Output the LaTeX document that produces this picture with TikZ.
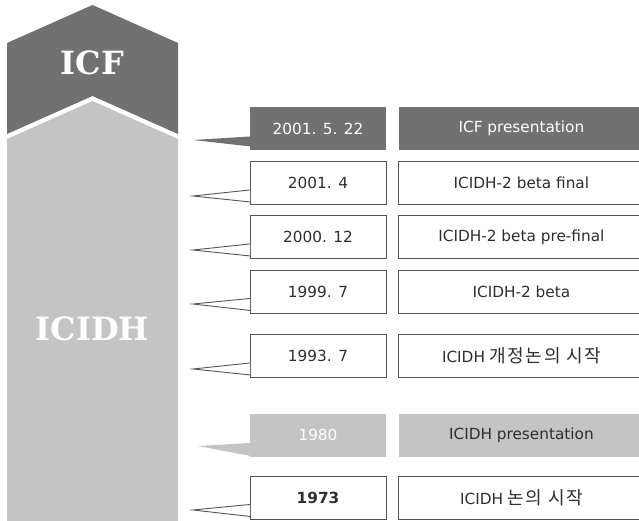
\documentclass[tikz,border=0pt]{standalone}
\usepackage{fontspec}
\setmainfont{DejaVu Sans}
\newfontfamily\titlefont{DejaVu Serif}
\newfontfamily\kr[Scale=1.18,LetterSpace=8]{Noto Sans CJK KR}
\usepackage{xcolor}
\usetikzlibrary{positioning}
\definecolor{icfgray}{HTML}{717171}
\definecolor{icidhgray}{HTML}{C4C4C4}
\definecolor{boxline}{HTML}{555555}
\definecolor{txtgray}{HTML}{2E2E2E}

\begin{document}
\begin{tikzpicture}[x=1pt, y=-1pt, node distance=12pt,
    datebox/.style={draw=boxline, line width=0.9pt, fill=white, minimum width=136pt, minimum height=43pt, inner sep=0pt, text=txtgray, font=\fontsize{15.3}{18}\selectfont},
    descbox/.style={datebox, minimum width=245pt},
    darkbox/.style={fill=icfgray, draw=none, text=white},
    lightbox/.style={fill=icidhgray, draw=none},
    tail/.style={draw=boxline, line width=0.9pt, fill=white},
    bigtitle/.style={text=white, font=\titlefont\bfseries\fontsize{32}{36}\selectfont}]

    \useasboundingbox (0,0) rectangle (639,521);
    \clip (0,0) rectangle (639,521);

    % ICF / ICIDH arrow
    \fill[icidhgray] (7,139) -- (92.5,101) -- (178,139) -- (178,521) -- (7,521) -- cycle;
    \fill[icfgray] (7,43) -- (92.5,5) -- (178,43) -- (178,134) -- (92.5,96) -- (7,134) -- cycle;
    \node[bigtitle] (icf) at (92.5,63) {ICF};
    \node[bigtitle] (icidh) at (92.5,329) {ICIDH};

    % 2001. 5. 22
    \node[datebox, darkbox] (d1) at (318,128.5) {2001. 5. 22};
    \node[descbox, darkbox, right=of d1] (e1) {ICF presentation};
    \coordinate (t1) at (193,140);
    \fill[icfgray] ([xshift=1pt, yshift=14pt]d1.south west) -- (t1) -- ([xshift=1pt, yshift=4pt]d1.south west) -- cycle;

    % 2001. 4
    \node[datebox] (d2) at (318,183) {2001. 4};
    \node[descbox, right=of d2] (e2) {ICIDH-2 beta final};
    \coordinate (t2) at (193,196);
    \filldraw[tail] ([xshift=0.5pt, yshift=15pt]d2.south west) -- (t2) -- ([xshift=0.5pt, yshift=3pt]d2.south west);

    % 2000. 12
    \node[datebox] (d3) at (318,237) {2000. 12};
    \node[descbox, right=of d3] (e3) {ICIDH-2 beta pre-final};
    \coordinate (t3) at (193,250);
    \filldraw[tail] ([xshift=0.5pt, yshift=15pt]d3.south west) -- (t3) -- ([xshift=0.5pt, yshift=3pt]d3.south west);

    % 1999. 7
    \node[datebox] (d4) at (318,291.5) {1999. 7};
    \node[descbox, right=of d4] (e4) {ICIDH-2 beta};
    \coordinate (t4) at (193,304);
    \filldraw[tail] ([xshift=0.5pt, yshift=15pt]d4.south west) -- (t4) -- ([xshift=0.5pt, yshift=3pt]d4.south west);

    % 1993. 7
    \node[datebox] (d5) at (318,356) {1993. 7};
    \node[descbox, right=of d5] (e5) {ICIDH {\kr 개정논의 시작}};
    \coordinate (t5) at (193,369);
    \filldraw[tail] ([xshift=0.5pt, yshift=15pt]d5.south west) -- (t5) -- ([xshift=0.5pt, yshift=3pt]d5.south west);

    % 1980
    \node[datebox, lightbox, text=white] (d6) at (318,435) {1980};
    \node[descbox, lightbox, right=of d6] (e6) {ICIDH presentation};
    \coordinate (t6) at (198,446);
    \fill[icidhgray] ([xshift=1pt, yshift=14pt]d6.south west) -- (t6) -- ([xshift=1pt, yshift=1pt]d6.south west) -- cycle;

    % 1973
    \node[datebox, font=\fontsize{15.3}{18}\selectfont\bfseries] (d7) at (318,497.5) {1973};
    \node[descbox, right=of d7] (e7) {ICIDH {\kr 논의 시작}};
    \coordinate (t7) at (193,510);
    \filldraw[tail] ([xshift=0.5pt, yshift=15pt]d7.south west) -- (t7) -- ([xshift=0.5pt, yshift=3pt]d7.south west);
\end{tikzpicture}
\end{document}
